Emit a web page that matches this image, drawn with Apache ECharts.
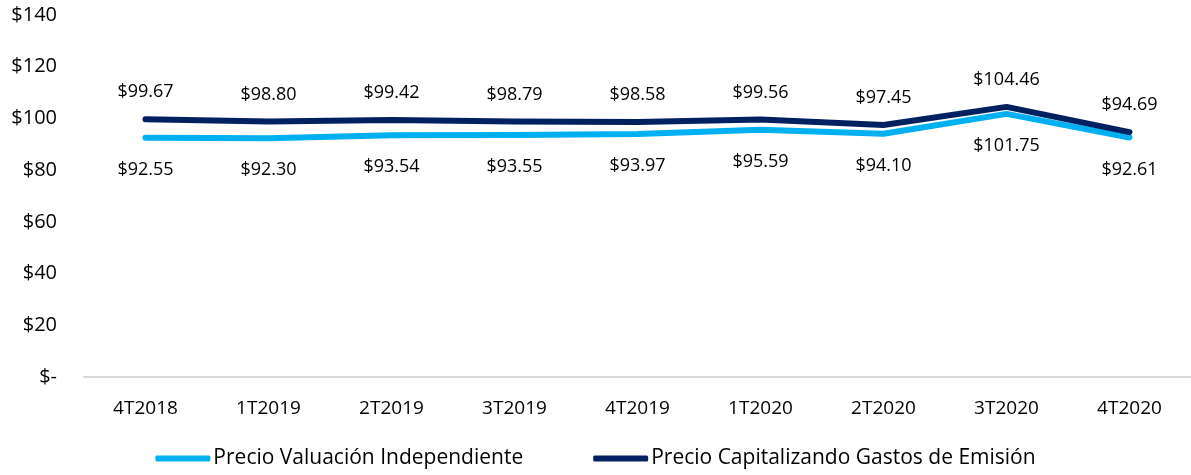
<!DOCTYPE html>
<html><head><meta charset="utf-8">
<script src="https://cdn.jsdelivr.net/npm/echarts@6/dist/echarts.min.js"></script>
<style>html,body{margin:0;padding:0;background:#fff}#c{width:1191px;height:475px}</style>
</head><body><div id="c"></div>
<script>
const categories = ['4T2018','1T2019','2T2019','3T2019','4T2019','1T2020','2T2020','3T2020','4T2020'];
const valuacion = [92.55, 92.30, 93.54, 93.55, 93.97, 95.59, 94.10, 101.75, 92.61];
const capitalizando = [99.67, 98.80, 99.42, 98.79, 98.58, 99.56, 97.45, 104.46, 94.69];
const seriesNames = ['Precio Valuación Independiente', 'Precio Capitalizando Gastos de Emisión'];
const FONT = '"Open Sans", Lato, sans-serif';
const chart = echarts.init(document.getElementById('c'), null, {renderer:'canvas'});
chart.setOption({
  animation:false,
  textStyle:{fontFamily:FONT},
  grid:{left:84, right:0, top:15, bottom:98},
  legend:{
    bottom:1, left:'center', itemGap:70, itemWidth:55, itemHeight:6,
    icon:'roundRect',
    textStyle:{fontFamily:FONT, fontSize:21, color:'#000', padding:[0,0,0,-2]},
    data:seriesNames
  },
  xAxis:{
    type:'category', data:categories, boundaryGap:true,
    axisLine:{lineStyle:{color:'#d9d9d9', width:2}},
    axisTick:{show:false},
    axisLabel:{fontFamily:FONT, fontSize:19, color:'#000', margin:22}
  },
  yAxis:{
    type:'value', min:0, max:140, interval:20,
    splitLine:{show:false}, axisLine:{show:false}, axisTick:{show:false},
    axisLabel:{fontFamily:FONT, fontSize:20, color:'#000', margin:27,
      formatter:v => v === 0 ? '$-' : '$' + v}
  },
  series:[
    {name:seriesNames[0], type:'line', data:valuacion, symbol:'circle', symbolSize:0, showSymbol:true,
     lineStyle:{color:'#00B0F0', width:6, cap:'round', join:'round'}, itemStyle:{color:'#00B0F0'},
     label:{show:true, position:'bottom', distance:23, fontFamily:FONT, fontSize:18, color:'#000',
       formatter:p => '$' + p.value.toFixed(2)}},
    {name:seriesNames[1], type:'line', data:capitalizando, symbol:'circle', symbolSize:0, showSymbol:true,
     lineStyle:{color:'#002060', width:6, cap:'round', join:'round'}, itemStyle:{color:'#002060'},
     label:{show:true, position:'top', distance:18, fontFamily:FONT, fontSize:18, color:'#000',
       formatter:p => '$' + p.value.toFixed(2)}}
  ]
});
</script></body></html>
